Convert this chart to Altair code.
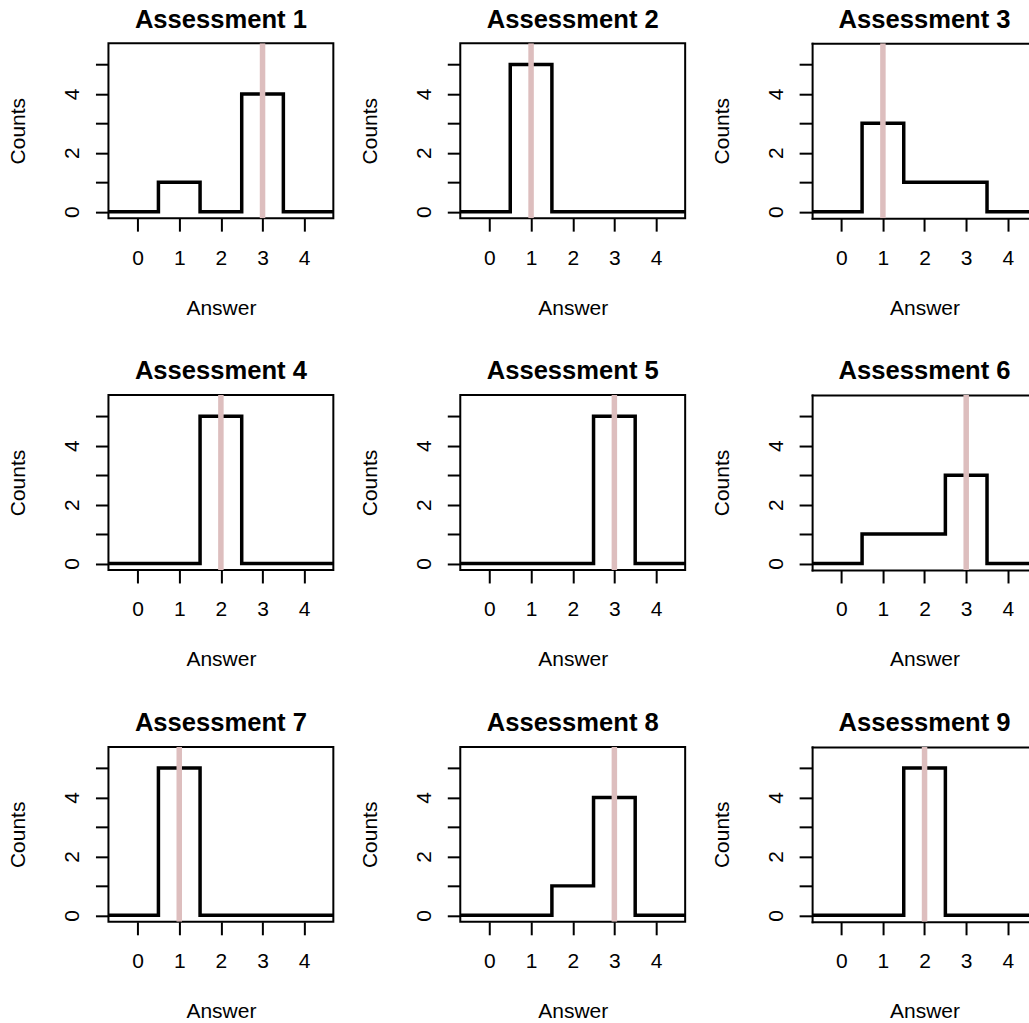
import altair as alt
import pandas as pd

# Nine assessments: answer counts for choices 0-4 and the correct choice
titles = [f"Assessment {i}" for i in range(1, 10)]
answers = [0, 1, 2, 3, 4]
counts = [
    [0, 1, 0, 4, 0],
    [0, 5, 0, 0, 0],
    [0, 3, 1, 1, 0],
    [0, 0, 5, 0, 0],
    [0, 0, 0, 5, 0],
    [0, 1, 1, 3, 0],
    [0, 5, 0, 0, 0],
    [0, 0, 1, 4, 0],
    [0, 0, 5, 0, 0],
]
correct = [3, 1, 1, 2, 3, 3, 1, 3, 2]
y_ticks = [0, 1, 2, 3, 4, 5]

FONT = "Liberation Sans"
PANEL_W, PANEL_H = 225, 175
X_MIN, X_SPAN = -0.7, 5.4
Y_DOMAIN = [-0.22, 5.72]
PINK = "#DDBEBE"


def panel(i):
    last_col = (i % 3) == 2
    w = 217 if last_col else PANEL_W
    x_max = X_MIN + w * X_SPAN / PANEL_W

    # pad with empty bins on both sides so the step runs edge to edge
    steps = pd.DataFrame({
        "answer": [answers[0] - 1] + answers + [answers[-1] + 1],
        "count": [0] + counts[i] + [0],
    })
    key = pd.DataFrame({"answer": [correct[i]]})

    xscale = alt.Scale(domain=[X_MIN, x_max], nice=False, zero=False)
    yscale = alt.Scale(domain=Y_DOMAIN, nice=False, zero=False)

    common = dict(
        domain=last_col, domainColor="black", domainWidth=2, domainCap="square",
        grid=False, ticks=True, tickColor="black", tickWidth=2, tickSize=13,
        labelFont=FONT, labelFontSize=21, labelColor="black",
        labelFlush=False, labelOverlap=False,
        titleFont=FONT, titleFontSize=21, titleFontWeight="normal",
        titleColor="black", titleBaseline="alphabetic",
    )
    xaxis = alt.Axis(
        values=answers, title="Answer", orient="bottom", labelAngle=0,
        labelBaseline="alphabetic", labelPadding=33,
        titleX=112.5, titleY=96, titleAlign="center", **common,
    )
    yaxis = alt.Axis(
        values=y_ticks, title="Counts",
        labelExpr="datum.value % 2 === 0 ? datum.label : ''",
        labelAngle=270, labelAlign="center", labelBaseline="alphabetic",
        labelPadding=17,
        titleAngle=270, titleX=-83.5, titleY=PANEL_H / 2, titleAlign="center",
        **common,
    )

    line = alt.Chart(steps).mark_line(
        interpolate="step", color="black", strokeWidth=3.5,
        strokeJoin="miter", clip=True,
    ).encode(
        x=alt.X("answer:Q", scale=xscale, axis=xaxis),
        y=alt.Y("count:Q", scale=yscale, axis=yaxis),
    )

    if last_col:
        # top border of the open-ended right column
        top_axis = alt.Axis(
            orient="top", domain=True, domainColor="black", domainWidth=2,
            domainCap="square", ticks=False, labels=False, grid=False, title=None,
        )
    else:
        top_axis = None
    rule = alt.Chart(key).mark_rule(
        color=PINK, strokeWidth=5.5, clip=True,
    ).encode(x=alt.X("answer:Q", scale=xscale, axis=top_axis))

    title = alt.TitleParams(
        titles[i], frame="group", anchor="middle", offset=-10,
        baseline="alphabetic", font=FONT, fontSize=25.6, fontWeight="bold",
        color="black", dx=4 if last_col else 0,
    )
    layered = alt.layer(line, rule).resolve_axis(x="independent").properties(
        width=w, height=PANEL_H, title=title
    )
    if last_col:
        layered = layered.properties(view=alt.ViewBackground(strokeWidth=0))
    return layered


panels = [panel(i) for i in range(9)]

chart = alt.concat(
    *panels, columns=3,
    spacing={"row": 352 - PANEL_H, "column": 352 - PANEL_W},
    bounds="flush",
).properties(
    padding={"left": 6.5, "top": 6, "right": 0, "bottom": 0},
    background="white",
).configure(
    font=FONT,
).configure_view(
    stroke="black", strokeWidth=2,
)

chart.save("out.html", embed_options={"renderer": "svg", "actions": False})
